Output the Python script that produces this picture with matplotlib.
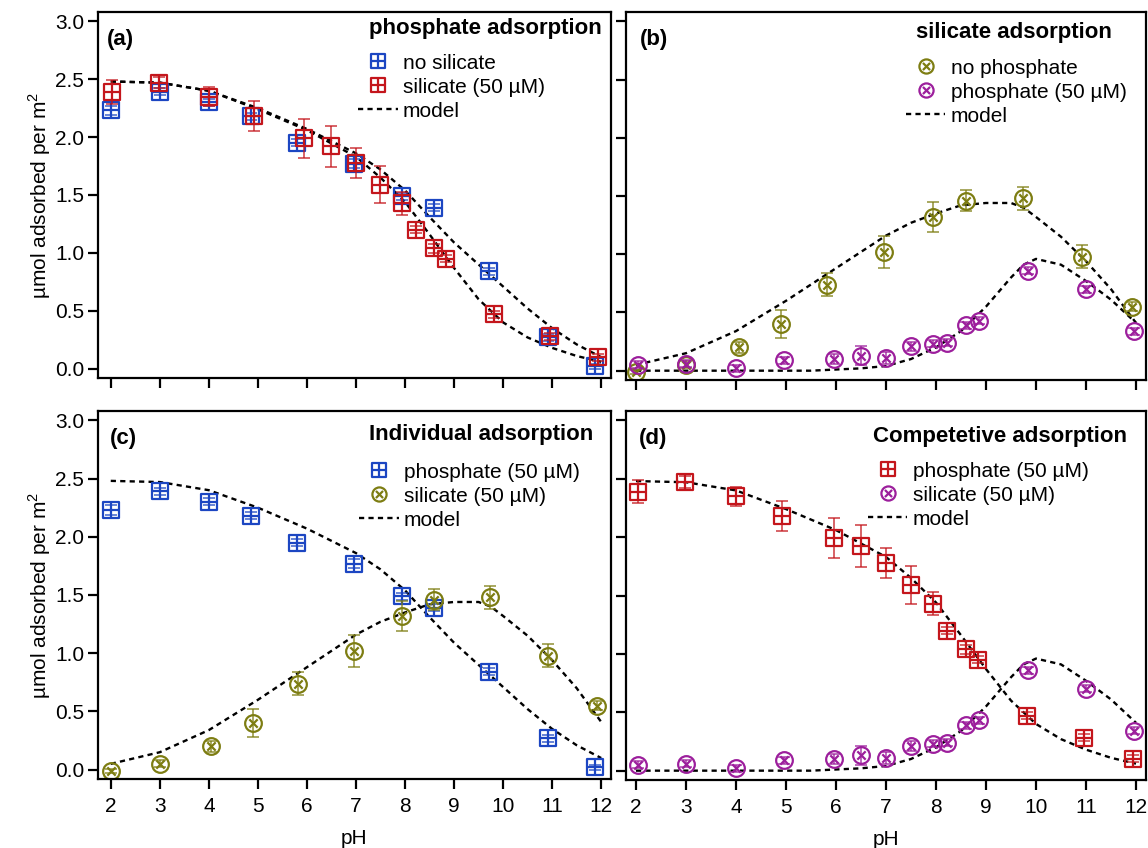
import matplotlib
matplotlib.use("Agg")
import matplotlib.pyplot as plt
from matplotlib.path import Path

plt.rcParams['font.family'] = ['Liberation Sans', 'DejaVu Sans']
plt.rcParams['font.size'] = 15

# ---- data ----
# phosphate, no silicate
ph_p = [2.0, 3.0, 4.0, 4.85, 5.8, 6.95, 7.93, 8.6, 9.72, 10.92, 11.88]
p_nosi = [2.23, 2.39, 2.30, 2.18, 1.95, 1.77, 1.49, 1.39, 0.84, 0.27, 0.02]
p_nosi_err = [0.04, 0.03, 0.03, 0.03, 0.03, 0.04, 0.03, 0.03, 0.03, 0.03, 0.02]

# phosphate with silicate (50 uM)
ph_ps = [2.03, 2.98, 4.0, 4.92, 5.95, 6.5, 7.0, 7.49, 7.93, 8.22, 8.59, 8.84, 9.82, 10.96, 11.94]
p_si = [2.39, 2.47, 2.35, 2.18, 1.99, 1.92, 1.78, 1.59, 1.43, 1.20, 1.04, 0.95, 0.47, 0.28, 0.10]
p_si_err = [0.10, 0.05, 0.08, 0.13, 0.17, 0.18, 0.13, 0.16, 0.10, 0.03, 0.04, 0.03, 0.03, 0.03, 0.03]

# silicate, no phosphate
ph_s = [2.0, 3.0, 4.05, 4.9, 5.82, 6.95, 7.94, 8.6, 9.74, 10.92, 11.92]
s_nop = [-0.01, 0.05, 0.20, 0.40, 0.74, 1.02, 1.32, 1.46, 1.48, 0.98, 0.55]
s_nop_err = [0.02, 0.03, 0.05, 0.12, 0.10, 0.14, 0.13, 0.09, 0.10, 0.10, 0.04]

# silicate with phosphate (50 uM)
ph_sp = [2.03, 3.0, 4.0, 4.96, 5.96, 6.5, 6.99, 7.5, 7.94, 8.22, 8.59, 8.86, 9.83, 10.99, 11.96]
s_p = [0.05, 0.06, 0.02, 0.09, 0.10, 0.13, 0.11, 0.21, 0.23, 0.24, 0.39, 0.43, 0.86, 0.70, 0.34]
s_p_err = [0.03, 0.03, 0.03, 0.03, 0.04, 0.08, 0.05, 0.04, 0.03, 0.03, 0.03, 0.03, 0.03, 0.03, 0.03]

# model curves
mph_p = [2, 3, 4, 5, 6, 7, 7.5, 8, 8.5, 9, 9.5, 10, 10.5, 11, 11.5, 12]
model_p_nosi = [2.48, 2.47, 2.40, 2.25, 2.07, 1.86, 1.72, 1.54, 1.31, 1.09, 0.90, 0.71, 0.52, 0.35, 0.21, 0.10]
model_p_si = [2.48, 2.47, 2.40, 2.24, 2.06, 1.83, 1.65, 1.44, 1.16, 0.87, 0.60, 0.40, 0.27, 0.18, 0.11, 0.06]

mph_s = [2, 3, 4, 5, 5.5, 6, 6.5, 7, 7.5, 8, 8.5, 9, 9.5, 9.75, 10, 10.5, 11, 11.5, 12]
model_s_nop = [0.05, 0.15, 0.34, 0.60, 0.74, 0.88, 1.02, 1.16, 1.27, 1.35, 1.42, 1.44, 1.44, 1.40, 1.32, 1.15, 0.94, 0.70, 0.41]
model_s_p = [0.0, 0.0, 0.0, 0.0, 0.0, 0.01, 0.02, 0.04, 0.10, 0.20, 0.34, 0.55, 0.80, 0.91, 0.96, 0.91, 0.77, 0.61, 0.41]

blue = '#1c46c2'
red = '#c4161c'
olive = '#7d7d12'
purple = '#9c1e9c'

# custom markers: square with plus, circle with x
sq_verts = [(-1, -1), (1, -1), (1, 1), (-1, 1), (-1, -1),
            (0, -1), (0, 1), (-1, 0), (1, 0)]
sq_codes = [Path.MOVETO, Path.LINETO, Path.LINETO, Path.LINETO, Path.CLOSEPOLY,
            Path.MOVETO, Path.LINETO, Path.MOVETO, Path.LINETO]
box_plus = Path(sq_verts, sq_codes)

c = 0.5
cross = Path([(-c, -c), (c, c), (-c, c), (c, -c)],
             [Path.MOVETO, Path.LINETO, Path.MOVETO, Path.LINETO])
circ_x = Path.make_compound_path(Path.unit_circle(), cross)


def series(ax, x, y, err, color, marker, label):
    ax.errorbar(x, y, yerr=err, fmt='none', ecolor=color, elinewidth=1.1,
                capsize=4, capthick=1.1, alpha=0.85)
    h, = ax.plot(x, y, ls='none', marker=marker, ms=12, mew=1.6,
                 mec=color, mfc='none', label=label)
    return h


def model(ax, x, y):
    h, = ax.plot(x, y, color='black', lw=1.7, ls=(0, (2.2, 1.8)), label='model')
    return h


def style(ax, left_lab, bottom_lab, xlim):
    ax.set_xlim(*xlim)
    ax.set_ylim(-0.08, 3.08)
    ax.set_xticks(range(2, 13))
    ax.set_yticks([0, 0.5, 1.0, 1.5, 2.0, 2.5, 3.0])
    ax.yaxis.set_major_formatter(matplotlib.ticker.FormatStrFormatter('%.1f'))
    ax.tick_params(direction='out', length=7, width=1.6, labelsize=15, pad=3)
    ax.tick_params(axis='x', pad=6)
    ax.tick_params(labelleft=left_lab, labelbottom=bottom_lab)
    for s in ax.spines.values():
        s.set_linewidth(1.6)
    if left_lab:
        ax.set_ylabel('µmol adsorbed per m$^{\\mathregular{2}}$', fontsize=15, labelpad=1)
    if bottom_lab:
        ax.set_xlabel('pH', fontsize=15, labelpad=9)


def leg(ax, handles, title, tx, ty, lx, ly):
    ax.text(tx, ty, title, transform=ax.transAxes, fontsize=16,
            fontweight='bold', ha='left', va='center')
    ax.legend(handles=handles, loc='upper left', bbox_to_anchor=(lx, ly),
              frameon=False, fontsize=15, handlelength=1.9, handletextpad=0.25,
              labelspacing=0.24, borderpad=0, borderaxespad=0, markerscale=0.85)


W, H = 1148, 848
fig = plt.figure(figsize=(W / 100, H / 100), dpi=100)
ax_a = fig.add_axes([98 / W, 1 - 378 / H, 513 / W, 366 / H])
ax_b = fig.add_axes([626 / W, 1 - 380 / H, 520 / W, 368 / H])
ax_c = fig.add_axes([98 / W, 1 - 779 / H, 513 / W, 368 / H])
ax_d = fig.add_axes([626 / W, 1 - 780 / H, 520 / W, 369 / H])

# (a) phosphate adsorption
model(ax_a, mph_p, model_p_nosi)
m = model(ax_a, mph_p, model_p_si)
h1 = series(ax_a, ph_p, p_nosi, p_nosi_err, blue, box_plus, 'no silicate')
h2 = series(ax_a, ph_ps, p_si, p_si_err, red, box_plus, 'silicate (50 µM)')
style(ax_a, True, False, (1.74, 12.2))
leg(ax_a, [h1, h2, m], 'phosphate adsorption', 0.528, 0.954, 0.507, 0.886)

# (b) silicate adsorption
model(ax_b, mph_s, model_s_nop)
m = model(ax_b, mph_s, model_s_p)
h1 = series(ax_b, ph_s, s_nop, s_nop_err, olive, circ_x, 'no phosphate')
h2 = series(ax_b, ph_sp, s_p, s_p_err, purple, circ_x, 'phosphate (50 µM)')
style(ax_b, False, False, (1.8, 12.2))
leg(ax_b, [h1, h2, m], 'silicate adsorption', 0.558, 0.943, 0.538, 0.873)

# (c) individual adsorption
model(ax_c, mph_p, model_p_nosi)
m = model(ax_c, mph_s, model_s_nop)
h1 = series(ax_c, ph_p, p_nosi, p_nosi_err, blue, box_plus, 'phosphate (50 µM)')
h2 = series(ax_c, ph_s, s_nop, s_nop_err, olive, circ_x, 'silicate (50 µM)')
style(ax_c, True, True, (1.74, 12.2))
leg(ax_c, [h1, h2, m], 'Individual adsorption', 0.528, 0.935, 0.509, 0.86)

# (d) competetive adsorption
model(ax_d, mph_p, model_p_si)
m = model(ax_d, mph_s, model_s_p)
h1 = series(ax_d, ph_ps, p_si, p_si_err, red, box_plus, 'phosphate (50 µM)')
h2 = series(ax_d, ph_sp, s_p, s_p_err, purple, circ_x, 'silicate (50 µM)')
style(ax_d, False, True, (1.8, 12.2))
leg(ax_d, [h1, h2, m], 'Competetive adsorption', 0.475, 0.932, 0.465, 0.863)

for ax, lab, x in zip([ax_a, ax_b, ax_c, ax_d], ['(a)', '(b)', '(c)', '(d)'],
                      [0.018, 0.027, 0.024, 0.024]):
    ax.text(x, 0.925, lab, transform=ax.transAxes, fontsize=16,
            fontweight='bold', va='center', ha='left')

fig.savefig('out.png', dpi=100)
